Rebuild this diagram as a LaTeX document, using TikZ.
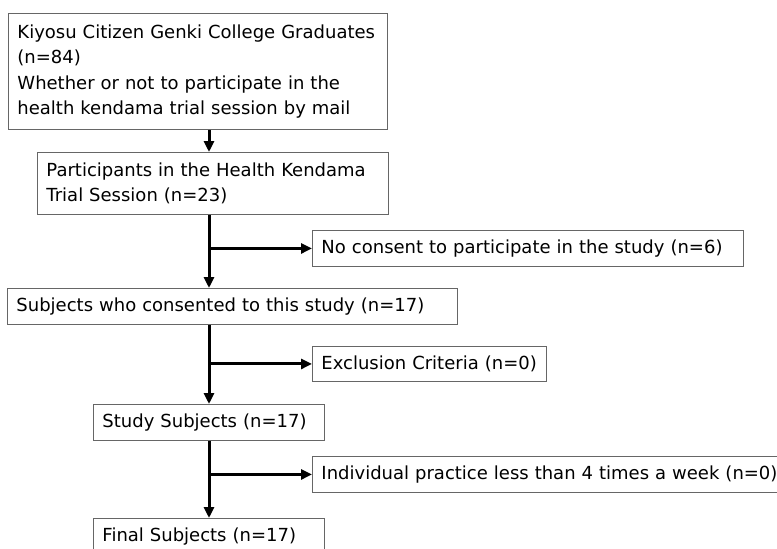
\documentclass[tikz,border=0pt]{standalone}
\usepackage{fontspec}
\setmainfont{DejaVu Sans}
\usetikzlibrary{arrows.meta}

\begin{document}
\begin{tikzpicture}[
		x=1pt, y=-1pt,
		box/.style={draw=black!60, line width=0.9pt, anchor=north west, inner xsep=9pt, inner ysep=0pt, align=left, font=\fontsize{18}{25.5}\selectfont},
		arrow/.style={-{Triangle[length=11pt, width=10pt]}, line width=3pt}
		]
		
		\useasboundingbox (0,0) rectangle (777,549);
		\coordinate (trunk) at (209,0);
		
		\node[box, minimum width=379pt, minimum height=116pt, text width=361pt] (grads) at (8,13) {Kiyosu Citizen Genki College Graduates\\(n=84)\\Whether or not to participate in the\\health kendama trial session by mail};
		\node[box, minimum width=351pt, minimum height=62pt, text width=333pt] (trial) at (37,152) {Participants in the Health Kendama\\Trial Session (n=23)};
		\node[box, minimum width=450pt, minimum height=36pt, text width=432pt] (consent) at (7,288) {Subjects who consented to this study (n=17)};
		\node[box, minimum width=231pt, minimum height=36pt, text width=213pt] (study) at (93,404) {Study Subjects (n=17)};
		\node[box, minimum width=231pt, minimum height=36pt, text width=213pt] (final) at (93,518) {Final Subjects (n=17)};
		
		\node[box, minimum width=431pt, minimum height=36pt, text width=413pt] (noconsent) at (312,230) {No consent to participate in the study (n=6)};
		\node[box, minimum width=234pt, minimum height=35pt, text width=216pt] (exclusion) at (312,346) {Exclusion Criteria (n=0)};
		\node[box, minimum width=475pt, minimum height=36pt, text width=457pt] (practice) at (312,456) {Individual practice less than 4 times a week (n=0)};
		
		\draw[arrow] (grads.south -| trunk) -- (trial.north -| trunk);
		\draw[arrow] (trial.south -| trunk) -- (consent.north -| trunk);
		\draw[arrow] (consent.south -| trunk) -- (study.north -| trunk);
		\draw[arrow] (study.south -| trunk) -- (final.north -| trunk);
		
		\draw[arrow] (noconsent.west -| trunk) -- (noconsent.west);
		\draw[arrow] (exclusion.west -| trunk) -- (exclusion.west);
		\draw[arrow] (practice.west -| trunk) -- (practice.west);
		
	\end{tikzpicture}
\end{document}
